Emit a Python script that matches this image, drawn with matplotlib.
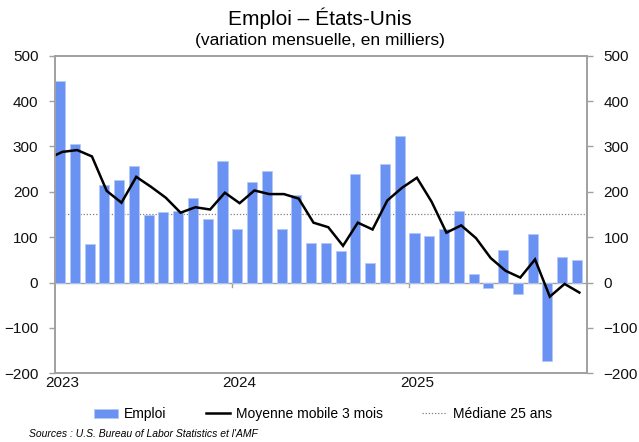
import matplotlib.pyplot as plt
import numpy as np

plt.rcParams['font.family'] = ['Liberation Sans', 'DejaVu Sans']

# Monthly data, Jan 2023 - Dec 2025 (thousands)
emploi = [444, 305, 85, 215, 227, 257, 148, 156, 157, 186, 140, 268,
          118, 222, 246, 117, 193, 87, 87, 70, 239, 43, 261, 322,
          110, 102, 119, 157, 19, -13, 72, -26, 107, -173, 56, 50]
# 3-month moving average, Dec 2022 - Dec 2025
moyenne_3m = [273, 288, 292, 278, 202, 176, 233, 211, 187, 154, 166, 161, 198,
              175, 203, 195, 195, 185, 132, 122, 81, 132, 117, 181, 209,
              231, 178, 110, 126, 98, 54, 26, 11, 51, -31, -3, -22]
mediane_25 = 152
year_labels = ['2023', '2024', '2025']

bar_col = '#6a92f2'
grey = '#a0a0a0'

fig = plt.figure(figsize=(6.39, 4.42), dpi=100)
ax = fig.add_axes([0.0861, 0.1554, 0.8321, 0.7186])

x = np.arange(len(emploi))
ax.bar(x, emploi, width=0.68, align='edge', color=bar_col,
       edgecolor='#b5c8f7', linewidth=0.6, label='Emploi', zorder=2)
xm = np.arange(len(moyenne_3m)) - 0.5
ax.plot(xm, moyenne_3m, color='black', lw=1.8, label='Moyenne mobile 3 mois',
        zorder=3, solid_joinstyle='miter')
ax.axhline(mediane_25, color='#808080', lw=0.9, ls=(0, (1, 1.5)),
           label='Médiane 25 ans', zorder=1)
ax.axhline(0, color=grey, lw=1.0, zorder=1)

ax.set_xlim(0, len(emploi))
ax.set_ylim(-200, 500)
ax.set_yticks(range(-200, 501, 100))
ax.tick_params(axis='y', labelsize=11, length=4, color=grey, width=1,
               pad=8, labelcolor='#111111')
ax.set_xticks([])

ax2 = ax.twinx()
ax2.set_ylim(-200, 500)
ax2.set_yticks(range(-200, 501, 100))
ax2.tick_params(axis='y', labelsize=11, length=4, color=grey, width=1,
                pad=8, labelcolor='#111111')

for a in (ax, ax2):
    for s in a.spines.values():
        s.set_color(grey)
        s.set_linewidth(1.2)

# small ticks on the zero line at year starts
for k in (12, 24):
    ax.plot([k, k], [0, -10], color=grey, lw=1, zorder=1, clip_on=False)

for i, lab in enumerate(year_labels):
    ax.text(i * 12 + 0.5, -207, lab, ha='center', va='top', fontsize=11,
            color='#111111')

fig.text(0.5, 1 - 18 / 442, 'Emploi – États-Unis', ha='center', va='center',
         fontsize=15)
fig.text(0.5, 1 - 40 / 442, '(variation mensuelle, en milliers)',
         ha='center', va='center', fontsize=12.5)

h1, l1 = ax.get_legend_handles_labels()
order = [l1.index('Emploi'), l1.index('Moyenne mobile 3 mois'),
         l1.index('Médiane 25 ans')]
fig.legend([h1[i] for i in order], [l1[i] for i in order], loc='center',
           bbox_to_anchor=(0.505, 1 - 414 / 442), ncol=3, frameon=False,
           fontsize=10, handlelength=1.75, handleheight=0.6,
           columnspacing=2.8, handletextpad=0.45)

fig.text(29 / 639, 1 - 434 / 442,
         "Sources : U.S. Bureau of Labor Statistics et l'AMF",
         ha='left', va='center', fontsize=7.5, style='italic')

fig.savefig('out.png', dpi=100)
